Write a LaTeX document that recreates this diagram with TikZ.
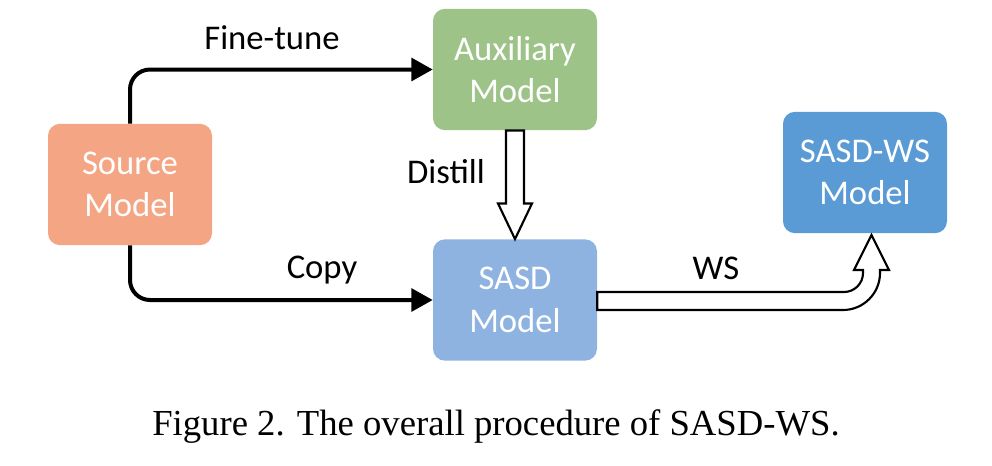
\documentclass[tikz,border=0pt]{standalone}
\usepackage{fontspec}
\setmainfont{Carlito}
\newfontfamily\capfont{Liberation Serif}
\usetikzlibrary{arrows.meta,calc}
\definecolor{srccol}{RGB}{244,165,131}
\definecolor{auxcol}{RGB}{157,195,136}
\definecolor{sasdcol}{RGB}{143,179,224}
\definecolor{wscol}{RGB}{91,155,213}
\begin{document}
\begin{tikzpicture}[x=0.75pt,y=-0.75pt,
  box/.style={rounded corners=9pt, minimum width=123pt, minimum height=91pt, text=white,
    align=center, font=\fontsize{26}{32}\selectfont, inner sep=0pt},
  lbl/.style={font=\fontsize{26}{32}\selectfont, inner sep=0pt},
  conn/.style={line width=3pt, -{Triangle[length=16pt,width=17pt]}, rounded corners=15pt},
  hollow/.style={draw=black, fill=white, line width=1.6pt, line join=miter}]
\useasboundingbox (0,0) rectangle (992,465);
\node[box, fill=srccol] (src) at (130,184.5) {Source\\Model};
\node[box, fill=auxcol] (aux) at (515,69.5) {Auxiliary\\Model};
\node[box, fill=sasdcol] (sasd) at (515,300) {SASD\\Model};
\node[box, fill=wscol] (sws) at (865,172.5) {SASD-WS\\Model};
% black connectors
\draw[conn] (src.north) |- (aux.west);
\draw[conn] (src.south) |- (sasd.west);
\node[lbl] (lft) at (272,38) {Fine-tune};
\node[lbl] (lcp) at (322,270) {Copy};
\node[lbl] (lds) at (446,172) {Distill};
\node[lbl] (lws) at (716,268) {WS};
% Distill hollow arrow
\draw[hollow] ($(aux.south)+(-9,0)$) -- ($(aux.south)+(-9,73)$) -- ($(aux.south)+(-17,73)$)
  -- (sasd.north) -- ($(aux.south)+(17,73)$) -- ($(aux.south)+(9,73)$) -- ($(aux.south)+(9,0)$) -- cycle;
% WS hollow arrow
\draw[hollow] ($(sasd.east)+(0,-8)$) -- (844,292) .. controls (854.5,292) and (863,283.5) .. (863,273)
  -- (863,270) -- (854,270) -- (871.5,235) -- (889,270) -- (880,270) -- (880,273)
  .. controls (880,293.4) and (863.4,310) .. (843,310) -- ($(sasd.east)+(0,10)$) -- cycle;
% caption
\node[font=\capfont\fontsize{27.5}{32}\selectfont, inner sep=0pt] (cap) at (496,427) {Figure 2. The overall procedure of SASD-WS.};
\end{tikzpicture}
\end{document}
